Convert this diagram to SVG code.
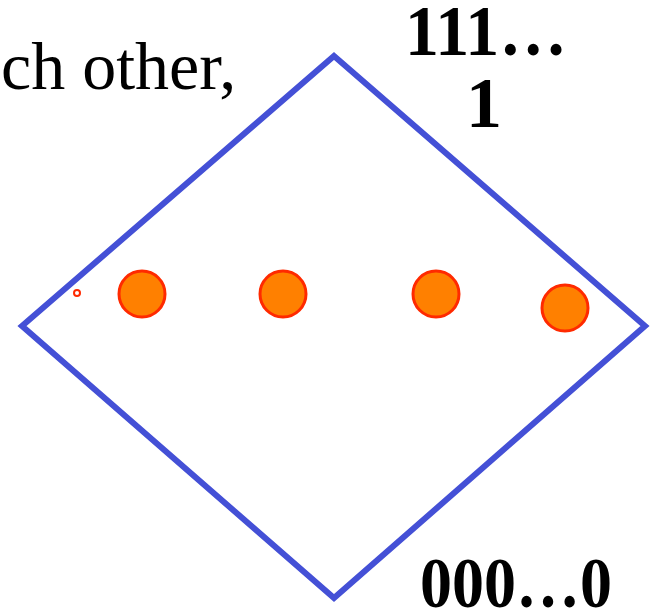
<svg xmlns="http://www.w3.org/2000/svg" width="653" height="609" viewBox="0 0 653 609">
<style>
.t{font-family:"Liberation Serif","Times New Roman",serif;font-size:68px;fill:#000}
.b{font-weight:bold;font-size:72px}
.dot{fill:#FF8000;stroke:#FF2A00;stroke-width:3}
</style>
<rect width="653" height="609" fill="#fff"/>
<g id="diamond">
<polygon points="334,56 645,326 334,598 22,326" fill="none" stroke="#4450D6" stroke-width="6" stroke-linejoin="miter"/>
</g>
<g id="connectors"></g>
<g id="marker-small">
<circle cx="77" cy="293" r="3" fill="#fff" stroke="#FF2A00" stroke-width="2"/>
</g>
<g id="node1"><circle class="dot" cx="142" cy="294" r="23"/></g>
<g id="node2"><circle class="dot" cx="283" cy="294" r="23"/></g>
<g id="node3"><circle class="dot" cx="436" cy="294" r="23"/></g>
<g id="node4"><circle class="dot" cx="565" cy="308" r="23"/></g>
<text class="t" x="1" y="89">ch other,</text>
<text class="t b" x="405" y="55" textLength="162" lengthAdjust="spacingAndGlyphs">111…</text>
<text class="t b" x="484" y="127" text-anchor="middle">1</text>
<text class="t b" x="420" y="607" textLength="192" lengthAdjust="spacingAndGlyphs">000…0</text>
</svg>
